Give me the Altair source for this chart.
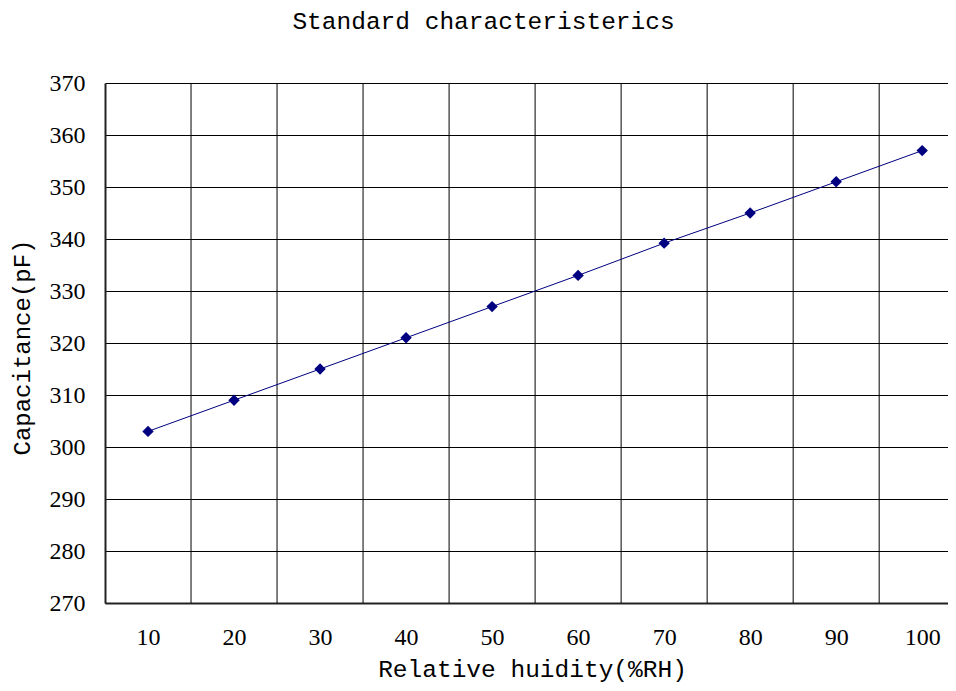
import altair as alt
import pandas as pd

# ---- data ----
rh = [10, 20, 30, 40, 50, 60, 70, 80, 90, 100]
cap = [303, 309, 315, 321, 327, 333, 339.2, 345, 351, 357]
x_ticks = [10, 20, 30, 40, 50, 60, 70, 80, 90, 100]
x_grid = [15, 25, 35, 45, 55, 65, 75, 85, 95]
y_ticks = [270, 280, 290, 300, 310, 320, 330, 340, 350, 360, 370]
x_domain = [5, 103]
y_domain = [270, 370]

title_text = "Standard characteristerics"
x_title = "Relative huidity(%RH)"
y_title = "Capacitance(pF)"

df = pd.DataFrame({"rh": rh, "cap": cap})
grid_df = pd.DataFrame({"g": x_grid})

W, H = 843, 520
mono = "Liberation Mono"
serif = "Liberation Serif"

xscale = alt.Scale(domain=x_domain, nice=False, zero=False)
yscale = alt.Scale(domain=y_domain, nice=False, zero=False)

x_axis = alt.Axis(
    values=x_ticks, grid=False, tickSize=0, labelPadding=34, labelBaseline="middle",
    labelFont=serif, labelFontSize=24, labelColor="black",
    domainColor="#222222", domainWidth=2,
    title=x_title, titleFont=mono, titleFontSize=24.5, titleFontWeight="normal",
    titleColor="black", titleX=427, titleY=66, titleBaseline="middle",
)
y_axis = alt.Axis(
    values=y_ticks, grid=True, gridColor="black", gridWidth=1, tickSize=0,
    labelPadding=20, labelFont=serif, labelFontSize=24, labelColor="black",
    domainColor="#222222", domainWidth=2,
    title=y_title, titleFont=mono, titleFontSize=24, titleFontWeight="normal",
    titleColor="black", titleAngle=-90, titleX=-83, titleY=H / 2 + 4,
    titleBaseline="middle", titleAlign="center",
)

grid = alt.Chart(grid_df).mark_rule(color="black", strokeWidth=1).encode(
    x=alt.X("g:Q", scale=xscale, axis=x_axis)
)

line = alt.Chart(df).mark_line(color="#000080", strokeWidth=1).encode(
    x=alt.X("rh:Q", scale=xscale, axis=x_axis),
    y=alt.Y("cap:Q", scale=yscale, axis=y_axis),
)

pts = alt.Chart(df).mark_point(
    shape="diamond", filled=True, size=130, color="#000080", opacity=1
).encode(
    x=alt.X("rh:Q", scale=xscale, axis=x_axis),
    y=alt.Y("cap:Q", scale=yscale, axis=y_axis),
)

chart = alt.layer(grid, line, pts).properties(
    width=W, height=H,
    title=alt.TitleParams(
        title_text, font=mono, fontSize=24.5, fontWeight="normal", color="black",
        anchor="middle", dx=-43, offset=37,
    ),
    autosize=alt.AutoSizeParams(type="none"),
    padding={"left": 97, "top": 75, "right": 0, "bottom": 80},
).configure_view(stroke=None).configure(background="white")

chart.save("out.html", embed_options={"renderer": "svg", "actions": False})
